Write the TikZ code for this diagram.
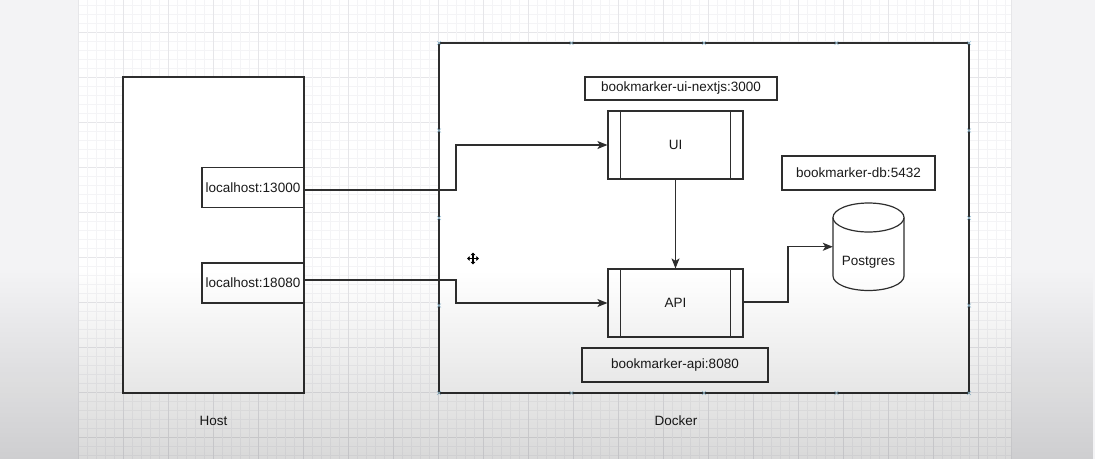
\documentclass[tikz,border=0pt]{standalone}
\usepackage{fontspec}
\setmainfont{Liberation Sans}
\usetikzlibrary{arrows.meta,fadings}
\definecolor{margin}{HTML}{F3F3F5}
\definecolor{minorgrid}{HTML}{F4F4F6}
\definecolor{majorgrid}{HTML}{E6E6E9}
\definecolor{edge}{HTML}{2E2E2E}
\definecolor{txt}{HTML}{1A1A1A}
\definecolor{hint}{HTML}{9CC3D8}
\tikzset{
  box/.style={draw=edge, line width=1.2pt, fill=white, inner sep=0pt, text=txt},
  lbl/.style={text=txt, inner sep=0pt},
  arr/.style={draw=edge, line width=1.2pt, -{Stealth[length=10pt,width=8pt,inset=2.5pt]}},
  conn/.style={draw=edge, line width=1.2pt},
  xmark/.style={draw=hint, line width=0.6pt},
}
\begin{document}
\begin{tikzpicture}[x=1pt,y=-1pt,font=\fontsize{13.5}{16}\selectfont]
\useasboundingbox (0,0) rectangle (1095,459);
\fill[margin] (0,0) rectangle (1095,459);
\fill[white] (78,0) rectangle (1011,459);
% grid
\foreach \i in {0,...,50} {
  \pgfmathtruncatemacro{\m}{mod(\i+2,5)}
  \ifnum\m=0 \draw[majorgrid, line width=0.6pt] (78,{5+9*\i}) -- (1011,{5+9*\i});
  \else \draw[minorgrid, line width=0.5pt] (78,{5+9*\i}) -- (1011,{5+9*\i}); \fi
}
\foreach \i in {0,...,103} {
  \pgfmathtruncatemacro{\m}{mod(\i,5)}
  \ifnum\m=0 \draw[majorgrid, line width=0.6pt] ({78+9*\i},0) -- ({78+9*\i},459);
  \else \draw[minorgrid, line width=0.5pt] ({78+9*\i},0) -- ({78+9*\i},459); \fi
}
\draw[majorgrid, line width=0.6pt] (1011,0) -- (1011,459);

% containers
\node[box, minimum width=181pt, minimum height=316pt] (host) at (213.5,235) {};
\node[box, minimum width=530pt, minimum height=350pt] (docker) at (704,218) {};
\node[lbl] (hostlbl) at (213.5,421) {Host};
\node[lbl] (dockerlbl) at (676,421) {Docker};

% host ports
\node[box, minimum width=102pt, minimum height=40pt] (lh1) at (253,187.5) {localhost:13000};
\node[box, minimum width=102pt, minimum height=40pt] (lh2) at (253,283) {localhost:18080};

% docker content
\node[box, minimum width=192pt, minimum height=23pt] (uilbl) at (681,88.5) {bookmarker-ui-nextjs:3000};
\node[box, minimum width=135pt, minimum height=68pt] (ui) at (675.5,145) {UI};
\draw[conn] ([xshift=13pt]ui.north west) -- ([xshift=13pt]ui.south west);
\draw[conn] ([xshift=-13pt]ui.north east) -- ([xshift=-13pt]ui.south east);
\node[box, minimum width=135pt, minimum height=68pt] (api) at (675.5,303) {API};
\draw[conn] ([xshift=13pt]api.north west) -- ([xshift=13pt]api.south west);
\draw[conn] ([xshift=-13pt]api.north east) -- ([xshift=-13pt]api.south east);
\node[box, minimum width=186pt, minimum height=34pt] (apilbl) at (675,365) {bookmarker-api:8080};
\node[box, minimum width=153pt, minimum height=34pt] (dblbl) at (858.5,173) {bookmarker-db:5432};

% postgres cylinder
\node[inner sep=0pt, minimum width=71pt, minimum height=87.5pt] (pg) at (868.5,246.75) {};
\draw[edge, line width=1.2pt, fill=white] (833,217.5) -- (833,276) arc[start angle=180, end angle=360, x radius=35.5pt, y radius=14.5pt] -- (904,217.5);
\draw[edge, line width=1.2pt, fill=white] (868.5,217.5) ellipse[x radius=35.5pt, y radius=14.5pt];
\node[lbl] (pgtxt) at (868.5,262) {Postgres};

% connectors
\draw[arr] ([yshift=-2.5pt]lh1.east) -- (456,190) |- (ui.west);
\draw[arr] ([yshift=3pt]lh2.east) -- (456,280) |- (api.west);
\draw[arr] (ui.south) -- (api.north);
\draw[arr] ([yshift=1pt]api.east) -- (788,302) |- (pg.west);

% selection hints on docker box
\foreach \px/\py in {439/43,571.5/43,704/43,836.5/43,969/43,439/130.5,439/218,439/305.5,969/130.5,969/218,969/305.5,439/393,571.5/393,704/393,836.5/393,969/393} {
  \draw[xmark] (\px-2,\py-2) -- (\px+2,\py+2) (\px-2,\py+2) -- (\px+2,\py-2);
}

% move cursor
\coordinate (mv) at (473,258.5);
\foreach \dx/\dy in {6/0,-6/0,0/6,0/-6} {
  \draw[black, line width=1.3pt, -{Triangle[length=2.6pt,width=4.5pt]}] (mv) -- ++(\dx,\dy);
}

% video overlay darkening at the bottom
\fill[black, path fading=north, fill opacity=0.15] (0,270) rectangle (1095,459);
\end{tikzpicture}
\end{document}
